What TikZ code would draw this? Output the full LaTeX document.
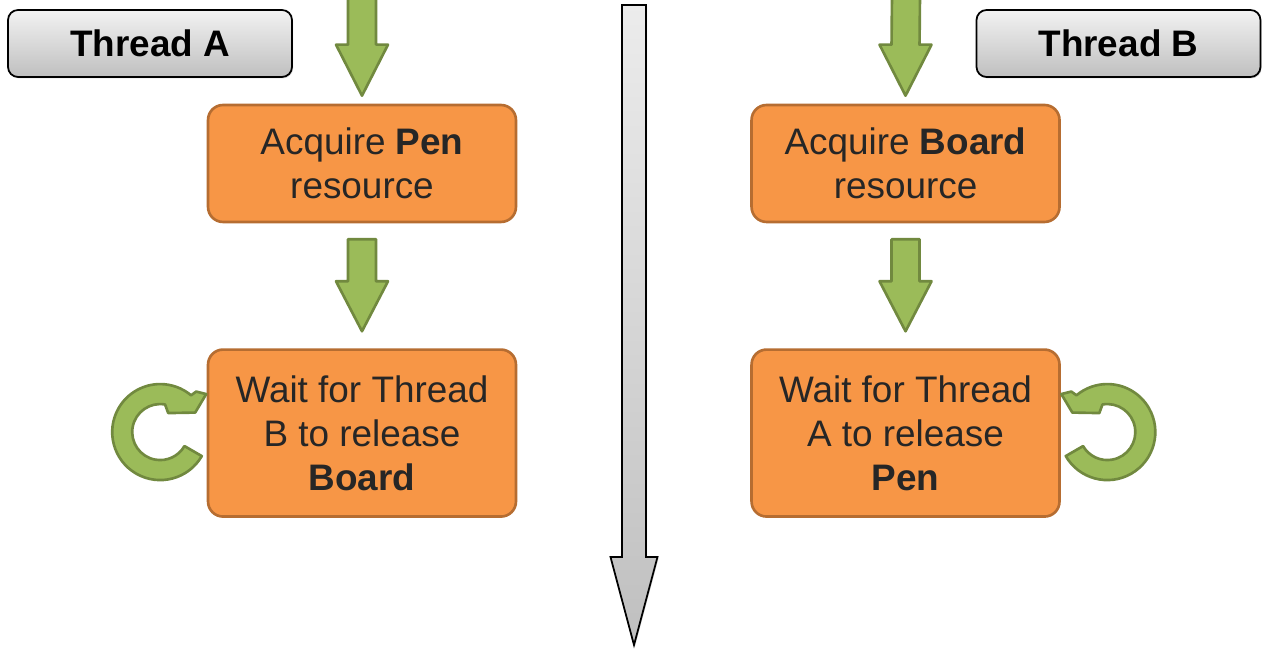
\documentclass[tikz,border=0pt]{standalone}
\usepackage{fontspec}
\setmainfont{Liberation Sans}
\usetikzlibrary{positioning,calc,shadows}

\definecolor{boxorange}{HTML}{F79646}
\definecolor{boxedge}{HTML}{B66D31}
\definecolor{arrowgreen}{HTML}{9BBB59}
\definecolor{arrowedge}{HTML}{71893F}
\definecolor{textgray}{HTML}{262626}

% block arrow from #2 down to #3: shaft half width #4, head half width #5, head length #6
\newcommand{\blockarrow}[6]{\draw[#1] ($(#2)+(-#4,0)$) -- ($(#2)+(#4,0)$) -- ($(#3)+(#4,#6)$) -- ($(#3)+(#5,#6)$) -- (#3) -- ($(#3)+(-#5,#6)$) -- ($(#3)+(-#4,#6)$) -- cycle;}

\tikzset{spin/.pic={
    \draw[flow] (-30:48) arc[start angle=-30,end angle=-310,radius=48] -- (36,40.5) -- (46,38) -- (35,19.5) -- (8,19) -- (80:28) arc[start angle=80,end angle=330,radius=28] -- cycle;
}}

\begin{document}
\begin{tikzpicture}[x=0.02cm,y=0.02cm,
    box/.style={rectangle,rounded corners=0.3cm,draw=boxedge,fill=boxorange,line width=1.5pt,minimum width=6.16cm,text=textgray,align=center,font=\fontsize{21}{25}\selectfont},
    head/.style={rectangle,rounded corners=0.2cm,draw=black,line width=1pt,top color=gray!10,bottom color=gray!50,minimum width=5.68cm,minimum height=1.34cm,font=\fontsize{21}{25}\selectfont\bfseries,drop shadow={shadow xshift=0.6pt,shadow yshift=-0.8pt,opacity=0.3}},
    flow/.style={draw=arrowedge,fill=arrowgreen,line width=1.5pt,line join=round},
    timeline/.style={draw=black,line width=1pt,top color=gray!15,bottom color=gray!50,drop shadow={shadow xshift=0.6pt,shadow yshift=-0.8pt,opacity=0.3}}]
    \useasboundingbox (0,0) rectangle (1268,658);

    \node[head] (threadA) at (150,614.5) {Thread A};
    \node[head] (threadB) at (1118.5,614.5) {Thread B};

    \node[box, minimum height=2.34cm] (penA) at (362,494.5) {Acquire \textbf{Pen}\\resource};
    \node[box, minimum height=3.34cm] (waitA) [below=2.5cm of penA] {Wait for Thread\\B to release\\\textbf{Board}};

    \node[box, minimum height=2.34cm] (boardB) [right=4.66cm of penA] {Acquire \textbf{Board}\\resource};
    \node[box, minimum height=3.34cm] (waitB) [right=4.66cm of waitA] {Wait for Thread\\A to release\\\textbf{Pen}};

    \coordinate (startA) at (362,662);
    \coordinate (endA) at ($(penA.north)+(0,8)$);
    \coordinate (startB) at (906,662);
    \coordinate (endB) at ($(boardB.north)+(0,8)$);
    \coordinate (stepA1) at ($(penA.south)+(0,-16)$);
    \coordinate (stepA2) at ($(waitA.north)+(0,17)$);
    \coordinate (stepB1) at ($(boardB.south)+(0,-16)$);
    \coordinate (stepB2) at ($(waitB.north)+(0,17)$);
    \coordinate (timeTop) at (634,653);
    \coordinate (timeEnd) at (634,13);

    \blockarrow{flow}{startA}{endA}{14}{26}{51}
    \blockarrow{flow}{startB}{endB}{14}{26}{51}
    \blockarrow{flow}{stepA1}{stepA2}{14}{26}{50}
    \blockarrow{flow}{stepB1}{stepB2}{14}{26}{50}

    \blockarrow{timeline}{timeTop}{timeEnd}{12}{23.5}{88}

    \pic at ($(waitA.west)+(-46.5,1)$) {spin};
    \pic[xscale=-1] at ($(waitB.east)+(46.5,1)$) {spin};
\end{tikzpicture}
\end{document}
